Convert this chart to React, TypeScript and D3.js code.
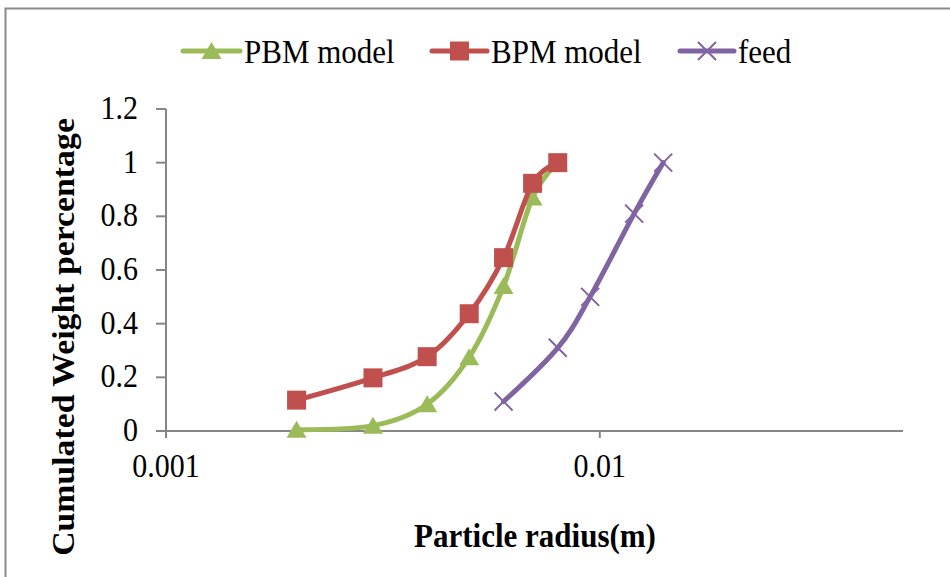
import React from "react";
import * as d3 from "d3";

// ---- data ----
const radii = [0.002, 0.003, 0.004, 0.005, 0.006, 0.007, 0.008];
const pbmValues = [0.005, 0.02, 0.1, 0.275, 0.54, 0.87, 1.0];
const bpmValues = [0.115, 0.198, 0.277, 0.437, 0.646, 0.923, 1.0];
const feedRadii = [0.006, 0.008, 0.0095, 0.012, 0.014];
const feedValues = [0.11, 0.31, 0.5, 0.81, 1.0];
const yTicks = [0, 0.2, 0.4, 0.6, 0.8, 1, 1.2];
const xTicks = [0.001, 0.01];
const xTickLabels = ["0.001", "0.01"];
const seriesNames = ["PBM model", "BPM model", "feed"];

const W = 950;
const H = 577;
const FONT = "Liberation Serif, Times New Roman, serif";
const AXIS = "#868686";
const GREEN = "#9BBB59";
const RED = "#C0504D";
const PURPLE = "#8064A2";
const SY = 1.09; // vertical stretch of the text in the reference

const txtStyle: React.CSSProperties = { fontFamily: FONT };

export default function App() {
  const x = d3.scaleLog().domain([0.001, 0.05]).range([166, 903]);
  const y = d3.scaleLinear().domain([0, 1.2]).range([431, 109]);

  const line = d3
    .line<[number, number]>()
    .x((d) => x(d[0]))
    .y((d) => y(d[1]))
    .curve(d3.curveCatmullRom.alpha(0));

  const pbm: [number, number][] = radii.map((r, i) => [r, pbmValues[i]]);
  const bpm: [number, number][] = radii.map((r, i) => [r, bpmValues[i]]);
  const feed: [number, number][] = feedRadii.map((r, i) => [r, feedValues[i]]);

  const tri = (cx: number, cy: number) =>
    `M${cx},${cy - 9}L${cx + 10},${cy + 8}L${cx - 10},${cy + 8}Z`;
  const sq = (cx: number, cy: number) =>
    `M${cx - 9.5},${cy - 9.5}h19v19h-19Z`;
  const cross = (cx: number, cy: number) =>
    `M${cx - 9},${cy - 9}L${cx + 9},${cy + 9}M${cx - 9},${cy + 9}L${cx + 9},${cy - 9}`;

  const legendItems = [
    { name: seriesNames[0], color: GREEN, x0: 183, x1: 240, tx: 244, m: "tri" },
    { name: seriesNames[1], color: RED, x0: 432, x1: 487, tx: 491, m: "sq" },
    { name: seriesNames[2], color: PURPLE, x0: 680, x1: 734, tx: 738, m: "x" },
  ];
  const ly = 51;

  const T = (
    px: number,
    py: number,
    content: string,
    opts: { size?: number; anchor?: string; bold?: boolean; rotate?: boolean } = {}
  ) => (
    <text
      transform={`translate(${px},${py}) scale(1,${SY})${opts.rotate ? " rotate(-90)" : ""}`}
      textAnchor={opts.anchor || "start"}
      fontSize={opts.size || 30}
      fontWeight={opts.bold ? "bold" : "normal"}
      fill="#000"
      style={txtStyle}
    >
      {content}
    </text>
  );

  return (
    <svg
      width={W}
      height={H}
      style={{ position: "absolute", left: 0, top: 0, background: "#fff" }}
    >
      <rect x={0} y={0} width={W} height={H} fill="#fff" />
      {/* outer chart border */}
      <path d={`M5.5,${H}V8.5H${W}`} fill="none" stroke="#8a8a8a" strokeWidth={2} />

      {/* legend */}
      {legendItems.map((it) => {
        const cx = (it.x0 + it.x1) / 2;
        return (
          <g key={it.name}>
            <line
              x1={it.x0}
              x2={it.x1}
              y1={ly}
              y2={ly}
              stroke={it.color}
              strokeWidth={5}
              strokeLinecap="round"
            />
            {it.m === "tri" && <path d={tri(cx, ly)} fill={it.color} />}
            {it.m === "sq" && <path d={sq(cx, ly)} fill={it.color} />}
            {it.m === "x" && (
              <path d={cross(cx, ly)} stroke={it.color} strokeWidth={2} fill="none" />
            )}
            {T(it.tx, ly + 12, it.name, { size: 31 })}
          </g>
        );
      })}

      {/* y axis */}
      <line x1={166} x2={166} y1={y(1.2)} y2={y(0) + 7} stroke={AXIS} strokeWidth={2} />
      {yTicks.map((t) => (
        <g key={t}>
          <line x1={156} x2={166} y1={y(t)} y2={y(t)} stroke={AXIS} strokeWidth={2} />
          {T(138, y(t) + 10, d3.format("~g")(t), { anchor: "end" })}
        </g>
      ))}

      {/* x axis */}
      <line x1={166} x2={903} y1={y(0)} y2={y(0)} stroke={AXIS} strokeWidth={2} />
      {xTicks.map((t, i) => (
        <g key={t}>
          <line x1={x(t)} x2={x(t)} y1={y(0)} y2={y(0) + 7} stroke={AXIS} strokeWidth={2} />
          {T(x(t), 477, xTickLabels[i], { anchor: "middle" })}
        </g>
      ))}

      {/* axis titles */}
      {T(535, 547, "Particle radius(m)", { anchor: "middle", bold: true, size: 31 })}
      {T(74, 337, "Cumulated Weight percentage", {
        anchor: "middle",
        bold: true,
        size: 31,
        rotate: true,
      })}

      {/* series */}
      <path d={line(feed) || ""} fill="none" stroke={PURPLE} strokeWidth={5} strokeLinecap="round" />
      {feed.map((d, i) => (
        <path key={"f" + i} d={cross(x(d[0]), y(d[1]))} stroke={PURPLE} strokeWidth={2} fill="none" />
      ))}

      <path d={line(pbm) || ""} fill="none" stroke={GREEN} strokeWidth={5} strokeLinecap="round" />
      {pbm.map((d, i) => (
        <path key={"p" + i} d={tri(x(d[0]), y(d[1]))} fill={GREEN} />
      ))}

      <path d={line(bpm) || ""} fill="none" stroke={RED} strokeWidth={5} strokeLinecap="round" />
      {bpm.map((d, i) => (
        <path key={"b" + i} d={sq(x(d[0]), y(d[1]))} fill={RED} />
      ))}
    </svg>
  );
}
